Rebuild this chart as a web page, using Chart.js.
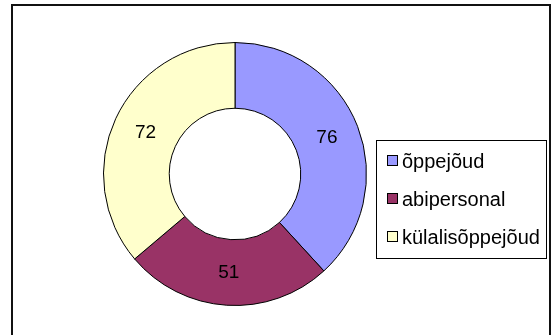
<!DOCTYPE html>
<html>
<head>
<meta charset="utf-8">
<script src="https://cdn.jsdelivr.net/npm/chart.js@4/dist/chart.umd.min.js"></script>
<style>
  html, body { margin: 0; padding: 0; background: #fff; }
  #wrap { position: relative; width: 552px; height: 335px; }
</style>
</head>
<body>
<div id="wrap"><canvas id="staffChart" width="552" height="335"></canvas></div>
<script>
  var labels = ['õppejõud', 'abipersonal', 'külalisõppejõud'];
  var counts = [76, 51, 72];
  var colors = ['#9999FF', '#993366', '#FFFFCC'];

  var FONT = 'Arial, "Liberation Sans", sans-serif';

  // outer frame of the chart
  var framePlugin = {
    id: 'frame',
    beforeDraw: function(chart){
      var c = chart.ctx;
      c.save();
      c.fillStyle = '#ffffff';
      c.fillRect(0, 0, chart.width, chart.height);
      c.strokeStyle = '#111';
      c.lineWidth = 2;
      c.strokeRect(12, 5, 538, 340);
      c.restore();
    }
  };

  // value written in the middle of each ring segment
  var valuePlugin = {
    id: 'values',
    afterDatasetsDraw: function(chart){
      var c = chart.ctx;
      var meta = chart.getDatasetMeta(0);
      c.save();
      c.font = '19px ' + FONT;
      c.fillStyle = '#000';
      c.textAlign = 'center';
      c.textBaseline = 'middle';
      for(let i=0; i<meta.data.length; i++){
        var p = meta.data[i].tooltipPosition();
        c.fillText(String(chart.data.datasets[0].data[i]), p.x, p.y);
      }
      c.restore();
    }
  };

  // boxed legend on the right
  var legendPlugin = {
    id: 'boxLegend',
    afterDraw: function(chart){
      var c = chart.ctx;
      var ds = chart.data.datasets[0];
      c.save();
      c.strokeStyle = '#000';
      c.lineWidth = 1;
      c.strokeRect(376.5, 140.5, 170, 118);
      c.font = '20px ' + FONT;
      c.textBaseline = 'middle';
      c.textAlign = 'left';
      for(let i=0; i<chart.data.labels.length; i++){
        var y = 161 + i*38;
        c.fillStyle = ds.backgroundColor[i];
        c.fillRect(387.5, y - 5.5, 10, 10);
        c.strokeStyle = '#000';
        c.strokeRect(387.5, y - 5.5, 10, 10);
        c.fillStyle = '#000';
        c.fillText(chart.data.labels[i], 402, y + 1);
      }
      c.restore();
    }
  };

  var ctx = document.getElementById('staffChart').getContext('2d');

  var staffChart = new Chart(ctx, {
    type: 'doughnut',
    data: {
      labels: labels,
      datasets: [{
        data: counts,
        backgroundColor: colors,
        borderColor: '#000',
        borderWidth: 1,
        borderAlign: 'center'
      }]
    },
    options: {
      responsive: false,
      animation: false,
      cutout: '50%',
      rotation: 0,
      layout: {
        padding: { left: 103, right: 185, top: 42, bottom: 29 }
      },
      plugins: {
        legend: { display: false },
        tooltip: { enabled: false }
      }
    },
    plugins: [framePlugin, valuePlugin, legendPlugin]
  });
</script>
</body>
</html>
